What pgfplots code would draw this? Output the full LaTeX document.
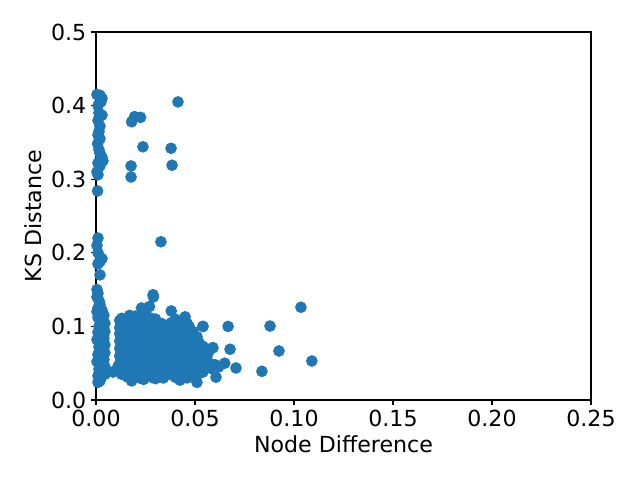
\documentclass[border=0pt]{standalone}
\usepackage{pgfplots}
\pgfplotsset{compat=1.18}
\usepackage{fontspec}
\setmainfont{DejaVu Sans}
\definecolor{c0}{HTML}{1F77B4}
\begin{document}
\begin{tikzpicture}
\useasboundingbox (-0.96in,-0.80in) rectangle (5.44in,4.0in);
\begin{axis}[
  at={(0,0)}, anchor=south west,
  scale only axis,
  width=4.95in, height=3.68in,
  xmin=0, xmax=0.25, ymin=0, ymax=0.5,
  xtick={0,0.05,0.1,0.15,0.2,0.25},
  xticklabels={0.00,0.05,0.10,0.15,0.20,0.25},
  ytick={0,0.1,0.2,0.3,0.4,0.5},
  yticklabels={0.0,0.1,0.2,0.3,0.4,0.5},
  tick align=outside, tick pos=left,
  major tick length=3.5pt,
  tick style={black, line width=0.8pt},
  axis line style={line width=0.8pt},
  /pgf/number format/assume math mode=true,
  tick label style={font=\fontsize{16}{19}\selectfont},
  label style={font=\fontsize{16}{19}\selectfont},
  xlabel={Node Difference}, ylabel={KS Distance},
  clip=false,
]
\addplot[only marks, mark=*, mark size=3.8pt, mark options={fill=c0, draw=c0, line width=0.8pt}] coordinates {
% upper left column
(0.0005,0.415)(0.002,0.414)(0.003,0.41)(0.0025,0.405)(0.001,0.40)(0.0015,0.39)(0.003,0.387)(0.001,0.38)
(0.002,0.372)(0.0015,0.365)(0.001,0.36)(0.002,0.355)(0.0008,0.348)(0.0015,0.34)(0.002,0.335)(0.003,0.33)
(0.0035,0.325)(0.001,0.322)(0.002,0.318)(0.0005,0.31)(0.001,0.306)(0.0008,0.284)
% upper scattered
(0.0414,0.405)(0.0195,0.385)(0.0225,0.384)(0.018,0.378)(0.0237,0.344)(0.0379,0.342)
(0.0177,0.318)(0.0384,0.319)(0.0177,0.303)(0.0328,0.215)
% middle column
(0.001,0.22)(0.0005,0.21)(0.001,0.2)(0.003,0.192)(0.002,0.188)(0.001,0.185)(0.002,0.17)
% lower column
(0.0005,0.15)(0.001,0.145)(0.0005,0.14)(0.0015,0.135)(0.002,0.13)(0.001,0.125)(0.003,0.122)
(0.0005,0.12)(0.0025,0.118)(0.004,0.115)(0.001,0.112)(0.003,0.108)(0.0045,0.104)(0.0015,0.1)
(0.0035,0.097)(0.0045,0.093)(0.001,0.092)(0.0025,0.088)(0.004,0.084)(0.0005,0.082)(0.003,0.078)
(0.0045,0.075)(0.0015,0.072)(0.0035,0.068)(0.0045,0.064)(0.001,0.062)(0.0025,0.058)(0.004,0.055)
(0.0005,0.052)(0.003,0.048)(0.0045,0.045)(0.0015,0.042)(0.0035,0.038)(0.0045,0.035)(0.001,0.033)
(0.0025,0.03)(0.002,0.026)(0.001,0.024)
% main blob
(0.0288,0.143)(0.023,0.125)(0.027,0.127)(0.029,0.14)
(0.013,0.111)(0.017,0.115)(0.020,0.114)(0.024,0.116)(0.027,0.112)(0.045,0.113)(0.038,0.121)
(0.012,0.108)(0.015,0.11)(0.019,0.109)(0.022,0.11)(0.026,0.108)(0.030,0.11)(0.040,0.11)(0.044,0.108)
(0.014,0.103)(0.018,0.104)(0.021,0.105)(0.025,0.104)(0.029,0.103)(0.033,0.104)(0.038,0.105)(0.042,0.103)(0.046,0.104)
(0.012,0.098)(0.016,0.1)(0.020,0.099)(0.023,0.1)(0.027,0.098)(0.031,0.1)(0.035,0.097)(0.039,0.1)(0.043,0.098)(0.047,0.1)(0.054,0.1)
(0.014,0.095)(0.018,0.094)(0.022,0.095)(0.025,0.093)(0.029,0.095)(0.033,0.093)(0.037,0.095)(0.041,0.094)(0.045,0.095)(0.049,0.093)
(0.012,0.09)(0.016,0.089)(0.020,0.09)(0.024,0.088)(0.028,0.09)(0.032,0.089)(0.036,0.09)(0.040,0.088)(0.044,0.09)(0.048,0.089)(0.051,0.086)
(0.014,0.085)(0.018,0.084)(0.022,0.085)(0.026,0.083)(0.030,0.085)(0.034,0.084)(0.038,0.085)(0.042,0.083)(0.046,0.085)(0.050,0.082)
(0.012,0.08)(0.016,0.079)(0.020,0.08)(0.024,0.078)(0.028,0.08)(0.032,0.079)(0.036,0.08)(0.040,0.078)(0.044,0.08)(0.048,0.079)(0.052,0.078)
(0.014,0.075)(0.018,0.074)(0.022,0.075)(0.026,0.073)(0.030,0.075)(0.034,0.074)(0.038,0.075)(0.042,0.073)(0.046,0.075)(0.050,0.074)(0.054,0.073)
(0.012,0.07)(0.016,0.069)(0.020,0.07)(0.024,0.068)(0.028,0.07)(0.032,0.069)(0.036,0.07)(0.040,0.068)(0.044,0.07)(0.048,0.069)(0.052,0.07)(0.056,0.068)(0.059,0.071)
(0.013,0.065)(0.017,0.064)(0.021,0.065)(0.025,0.063)(0.029,0.065)(0.033,0.064)(0.037,0.065)(0.041,0.063)(0.045,0.065)(0.049,0.064)(0.053,0.065)(0.057,0.066)
(0.012,0.06)(0.016,0.059)(0.020,0.06)(0.024,0.058)(0.028,0.06)(0.032,0.059)(0.036,0.06)(0.040,0.058)(0.044,0.06)(0.048,0.059)(0.052,0.06)(0.056,0.058)
(0.013,0.055)(0.017,0.054)(0.021,0.055)(0.025,0.053)(0.029,0.055)(0.033,0.054)(0.037,0.055)(0.041,0.053)(0.045,0.055)(0.049,0.054)(0.053,0.055)
(0.012,0.05)(0.016,0.049)(0.020,0.05)(0.024,0.048)(0.028,0.05)(0.032,0.049)(0.036,0.05)(0.040,0.048)(0.044,0.05)(0.048,0.049)(0.052,0.05)(0.057,0.05)(0.060,0.048)
(0.011,0.045)(0.015,0.044)(0.019,0.045)(0.023,0.043)(0.027,0.045)(0.031,0.044)(0.035,0.045)(0.039,0.043)(0.043,0.045)(0.047,0.044)(0.051,0.045)(0.055,0.044)(0.058,0.043)(0.062,0.045)
(0.010,0.04)(0.014,0.039)(0.018,0.04)(0.022,0.038)(0.026,0.04)(0.030,0.039)(0.034,0.04)(0.038,0.038)(0.042,0.04)(0.046,0.039)(0.050,0.04)(0.054,0.038)
(0.0086,0.038)(0.013,0.035)(0.017,0.034)(0.021,0.035)(0.025,0.033)(0.029,0.035)(0.033,0.034)(0.037,0.035)(0.041,0.033)(0.045,0.035)(0.049,0.034)(0.052,0.036)
(0.016,0.031)(0.022,0.03)(0.028,0.031)(0.034,0.03)(0.040,0.031)(0.046,0.03)
(0.018,0.026)(0.024,0.028)(0.030,0.029)(0.0424,0.027)(0.051,0.024)
% right outliers
(0.1035,0.126)(0.0879,0.1005)(0.0667,0.1)(0.054,0.1)(0.0924,0.0666)(0.109,0.053)(0.0838,0.039)
(0.0677,0.069)(0.0707,0.0435)(0.0606,0.031)(0.065,0.05)(0.0606,0.047)(0.059,0.071)
};
\end{axis}
\end{tikzpicture}
\end{document}
